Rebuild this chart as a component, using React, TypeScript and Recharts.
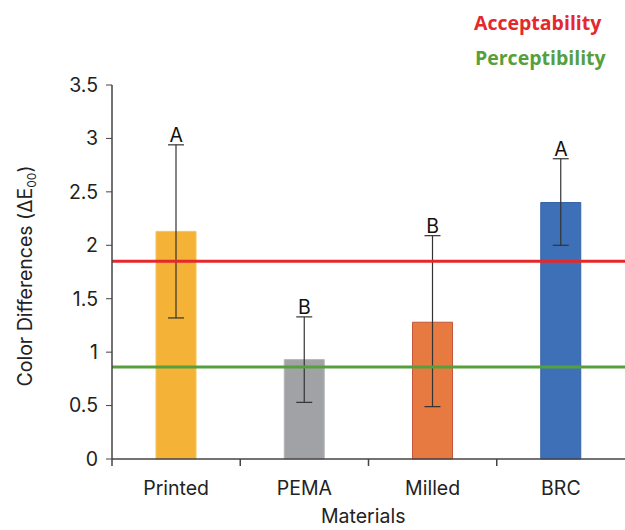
import {
  Bar,
  Cell,
  ComposedChart,
  ErrorBar,
  ReferenceLine,
  Scatter,
  XAxis,
  YAxis,
} from "recharts";

const materials = ["Printed", "PEMA", "Milled", "BRC"];
const meanDE = [2.13, 0.93, 1.28, 2.4];
const errLow = [1.32, 0.53, 0.49, 2.0];
const errHigh = [2.94, 1.33, 2.09, 2.81];
const letters = ["A", "B", "B", "A"];
const barFill = ["#F4B336", "#A0A2A5", "#E67A41", "#3E70B8"];
const barStroke = ["#F6C35A", "#B4B6B8", "#C4563A", "#3463AA"];
const yTicks = [0, 0.5, 1, 1.5, 2, 2.5, 3, 3.5];
const acceptability = 1.85;
const perceptibility = 0.86;

const data = materials.map((name, i) => ({
  name,
  value: meanDE[i],
  err: [meanDE[i] - errLow[i], errHigh[i] - meanDE[i]],
  top: errHigh[i],
  letter: letters[i],
}));

const W = 625;
const H = 530;
const LEFT = 112;
const BAND = (W - LEFT) / materials.length;
const FONT = "Inter, 'Noto Sans', sans-serif";
const FS = 19.5;

function XTick(props: any) {
  const {x, y, payload} = props;
  return (
    <g>
      <line x1={x - BAND / 2} x2={x - BAND / 2} y1={y - 8} y2={y - 1} stroke="#444" strokeWidth={1.5} />
      <text x={x} y={y + 28} textAnchor="middle" fontSize={FS} fill="#222" fontFamily={FONT}>
        {payload.value}
      </text>
    </g>
  );
}

function Letter(props: any) {
  const {cx, cy, payload} = props;
  return (
    <text x={cx} y={cy - 3} textAnchor="middle" fontSize={FS} fill="#111" fontFamily={FONT}>
      {payload.letter}
    </text>
  );
}

export default function App() {
  return (
    <div style={{position: "absolute", left: 0, top: 0, width: W, height: H, background: "#fff"}}>
      <ComposedChart
        width={W}
        height={H}
        data={data}
        margin={{top: 85, right: 0, bottom: 41, left: 0}}
      >
        <XAxis
          dataKey="name"
          height={30}
          axisLine={{stroke: "#444", strokeWidth: 1.5}}
          tickLine={false}
          tick={<XTick />}
          interval={0}
        />
        <YAxis
          width={LEFT}
          domain={[0, 3.5]}
          ticks={yTicks}
          interval={0}
          axisLine={{stroke: "#444", strokeWidth: 1.5}}
          tickLine={{stroke: "#444"}}
          tickSize={6}
          tickMargin={8}
          tick={{fontSize: FS, fill: "#222", fontFamily: FONT}}
        />
        <Bar dataKey="value" barSize={40} isAnimationActive={false}>
          {data.map((d, i) => (
            <Cell key={d.name} fill={barFill[i]} stroke={barStroke[i]} strokeWidth={1} />
          ))}
          <ErrorBar dataKey="err" width={8} stroke="#333" strokeWidth={1.2} />
        </Bar>
        <ReferenceLine y={acceptability} stroke="#E4282C" strokeWidth={3} />
        <ReferenceLine y={perceptibility} stroke="#55A03C" strokeWidth={3} />
        <Scatter dataKey="top" shape={<Letter />} isAnimationActive={false} />
      </ComposedChart>
      <div style={{position: "absolute", left: 0, top: 276, width: 0, height: 0}}>
        <div
          style={{
            position: "absolute",
            left: 26,
            top: 0,
            transform: "translate(-50%, -50%) rotate(-90deg)",
            whiteSpace: "nowrap",
            fontSize: FS,
            color: "#222",
            fontFamily: FONT,
          }}
        >
          Color Differences (ΔE<sub style={{fontSize: 12}}>00</sub>)
        </div>
      </div>
      <div
        style={{
          position: "absolute",
          left: 321,
          top: 504,
          fontSize: FS,
          color: "#222",
          fontFamily: FONT,
        }}
      >
        Materials
      </div>
      <div
        style={{
          position: "absolute",
          left: 474,
          top: 9,
          fontSize: 19.5,
          fontWeight: 700,
          color: "#E4282C",
          fontFamily: "'Open Sans', sans-serif",
        }}
      >
        Acceptability
      </div>
      <div
        style={{
          position: "absolute",
          left: 475,
          top: 44,
          fontSize: 19.5,
          fontWeight: 700,
          color: "#55A03C",
          fontFamily: "'Open Sans', sans-serif",
        }}
      >
        Perceptibility
      </div>
    </div>
  );
}
